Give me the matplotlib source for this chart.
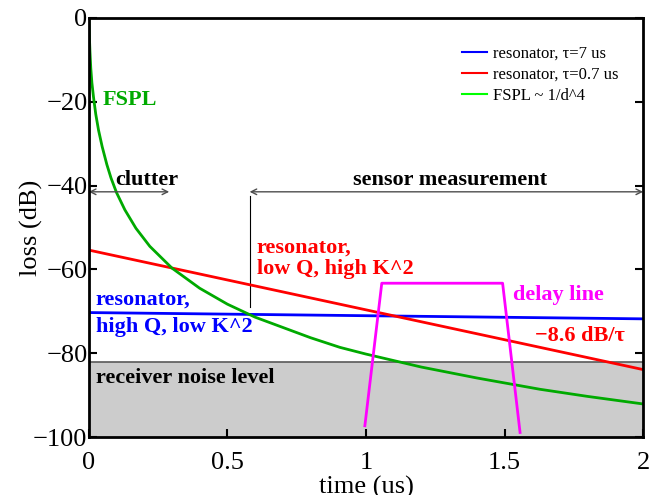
import matplotlib.pyplot as plt
from matplotlib.lines import Line2D

plt.rcParams['font.family'] = ['Liberation Serif', 'DejaVu Serif']

# values
t_line = [0.0, 2.0]
res_high_q = [-70.3, -71.8]      # resonator, tau = 7 us
res_low_q = [-55.4, -83.9]       # resonator, tau = 0.7 us

t_fspl = [0.0, 0.002, 0.004, 0.007, 0.011, 0.017, 0.025, 0.035, 0.048, 0.065,
          0.08, 0.1, 0.13, 0.17, 0.22, 0.3, 0.4, 0.5, 0.6, 0.8, 0.906, 1.0,
          1.2, 1.4, 1.628, 1.8, 2.0]
fspl = [0.0, -4.5, -8.0, -12.0, -15.5, -19.0, -23.0, -26.8, -30.7, -35.0,
        -38.2, -41.7, -45.8, -50.2, -54.5, -59.7, -64.5, -68.3, -71.4, -76.3,
        -78.6, -80.2, -83.3, -85.9, -88.6, -90.3, -92.1]

t_delay = [0.996, 1.057, 1.493, 1.556]
delay = [-97.3, -63.3, -63.3, -98.9]

noise_level = -82.0

fig = plt.figure(figsize=(6.63, 4.95), dpi=100)
ax = fig.add_axes([0.134, 0.117, 0.836, 0.847])

ax.fill_between([0, 2], -100, noise_level, facecolor='0.8', edgecolor='none', zorder=1)
ax.plot([0, 2], [noise_level, noise_level], color='0.35', lw=1.2, zorder=1.5)

ax.plot(t_line, res_high_q, color='blue', lw=2, zorder=3)
ax.plot(t_line, res_low_q, color='red', lw=2, zorder=3)
ax.plot(t_fspl, fspl, color='#00aa00', lw=2, zorder=3)
ax.plot(t_delay, delay, color='magenta', lw=2, zorder=3)

# measurement windows
arr = dict(arrowstyle='<->', color='0.3', lw=1, shrinkA=0, shrinkB=0)
ax.annotate('', xy=(0.0, -41.5), xytext=(0.29, -41.5), arrowprops=arr)
ax.annotate('', xy=(0.58, -41.5), xytext=(2.0, -41.5), arrowprops=arr)
ax.plot([0.58, 0.58], [-42.5, -69], color='black', lw=0.8)

bold = dict(fontsize=16, fontweight='bold')
ax.text(0.05, -19.6, 'FSPL', color='#00aa00', va='center', **bold)
ax.text(0.21, -38.7, 'clutter', color='black', ha='center', va='center', **bold)
ax.text(1.303, -38.7, 'sensor measurement', color='black', ha='center', va='center', **bold)
ax.text(0.605, -57.4, 'resonator,\nlow Q, high K^2', color='red', va='center',
        linespacing=1.12, **bold)
ax.text(0.025, -70.4, 'resonator,\nhigh Q, low K^2', color='blue', va='center',
        linespacing=1.5, **bold)
ax.text(1.53, -66.1, 'delay line', color='magenta', va='center', **bold)
ax.text(1.61, -76.0, '\u22128.6 dB/\u03c4', color='red', va='center', **bold)
ax.text(0.025, -85.9, 'receiver noise level', color='black', va='center', **bold)

handles = [Line2D([], [], color='blue', lw=1.5),
           Line2D([], [], color='red', lw=1.5),
           Line2D([], [], color='#00ff00', lw=1.5)]
labels = ['resonator, \u03c4=7 us', 'resonator, \u03c4=0.7 us', 'FSPL ~ 1/d^4']
ax.legend(handles, labels, loc='upper right', frameon=False, fontsize=12,
          handlelength=1.5, handletextpad=0.35, bbox_to_anchor=(0.982, 0.97),
          labelspacing=0.32)

ax.set_xlim(0, 2)
ax.set_ylim(-100, 0)
ax.set_xticks([0, 0.5, 1, 1.5, 2])
ax.set_xticklabels(['0', '0.5', '1', '1.5', '2'])
ax.set_yticks([-100, -80, -60, -40, -20, 0])
ax.set_yticklabels(['\u2212100', '\u221280', '\u221260', '\u221240', '\u221220', '0'])
ax.tick_params(direction='in', length=6, width=1.5, labelsize=19, right=True)
ax.tick_params(axis='y', pad=1)
ax.tick_params(axis='x', pad=11)
for s in ax.spines.values():
    s.set_linewidth(2)
    s.set_zorder(5)
ax.set_xlabel('time (us)', fontsize=19, labelpad=1)
ax.set_ylabel('loss (dB)', fontsize=19, labelpad=-7)

fig.savefig('out.png', dpi=100)
